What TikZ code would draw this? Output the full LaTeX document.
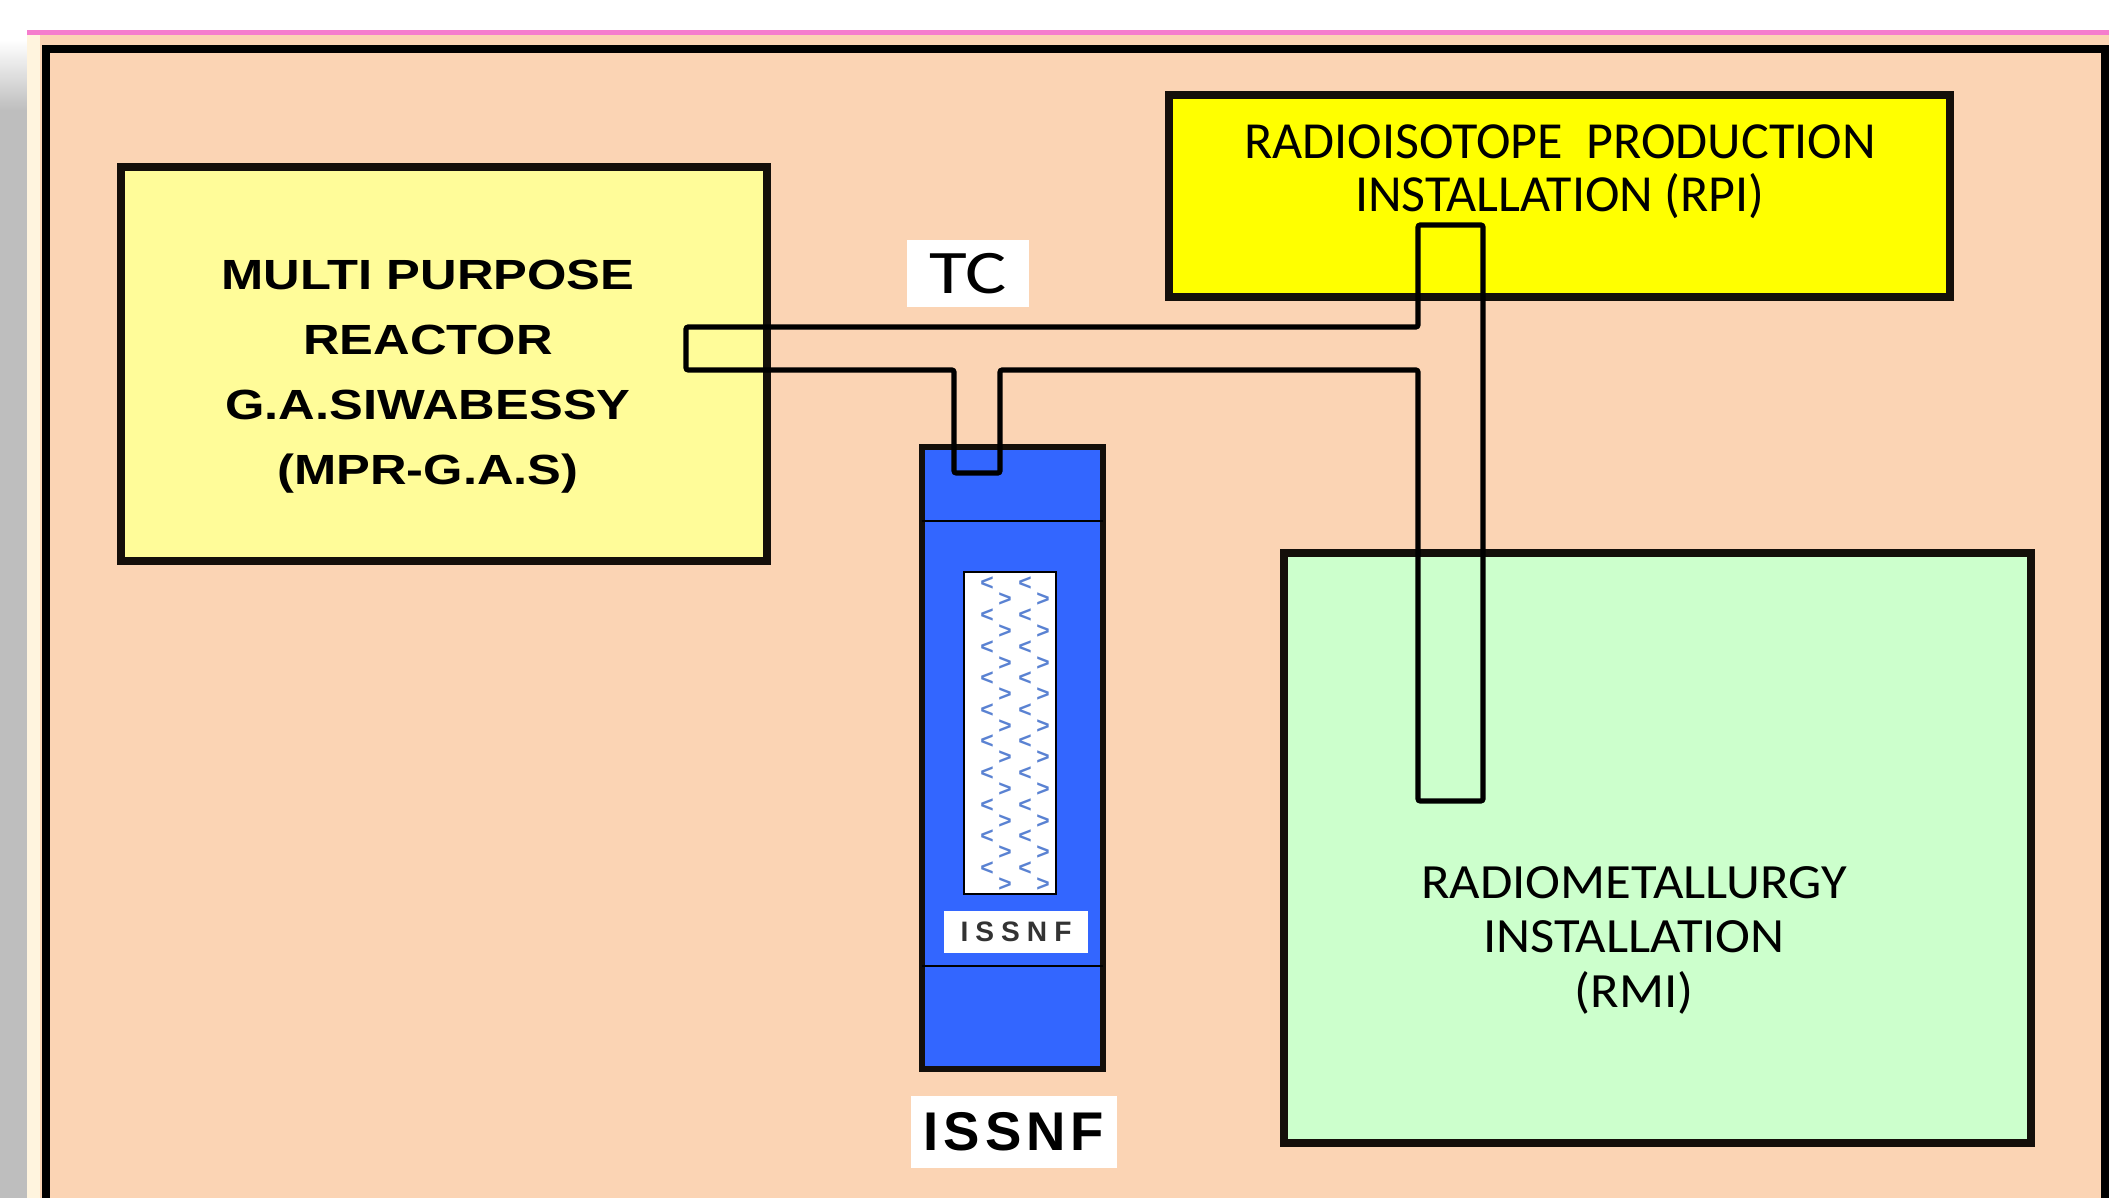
\documentclass[tikz,border=0pt]{standalone}
\usepackage{fontspec}
\setmainfont{Liberation Sans}
\newfontfamily\mprfont{Liberation Sans}[FakeStretch=1.2]
\newfontfamily\calfont{Carlito}
\newfontfamily\tcfont{Carlito}[FakeStretch=1.25]
\newfontfamily\rmifont{Carlito}[FakeStretch=1.07]
\newfontfamily\bigissnf{Liberation Sans}[LetterSpace=9]
\newfontfamily\smallissnf{Liberation Sans}[LetterSpace=25]
\definecolor{peach}{RGB}{251,212,180}
\definecolor{mpryellow}{RGB}{255,252,153}
\definecolor{rpiyellow}{RGB}{255,255,0}
\definecolor{rmigreen}{RGB}{204,255,204}
\definecolor{colblue}{RGB}{51,102,255}
\definecolor{pinkline}{RGB}{245,125,205}
\definecolor{shadowgray}{RGB}{190,190,190}
\definecolor{cream}{RGB}{255,244,222}
\definecolor{patblue}{RGB}{90,130,210}
\definecolor{darkline}{RGB}{20,15,10}
\begin{document}
\begin{tikzpicture}[x=0.01cm,y=-0.01cm,
  box/.style={draw=darkline, line width=2.3pt, rectangle, inner sep=0pt, outer sep=0pt},
  pipe/.style={draw=black, line width=1.45pt, rounded corners=0.6pt},
  lab/.style={fill=white, inner sep=0pt, outer sep=0pt},
  patch/.style={text=patblue, inner sep=0pt, font=\bfseries\fontsize{6.5}{6.5}\selectfont}]
\useasboundingbox (0,0) rectangle (2109,1198);
\fill[white] (0,0) rectangle (2109,1198);
% left shadow
\fill[top color=white, bottom color=shadowgray] (0,40) rectangle (27,110);
\fill[shadowgray] (0,110) rectangle (27,1198);
% panel
\fill[peach] (27,33) rectangle (2109,1198);
\fill[cream] (27,35) rectangle (40,1198);
\fill[pinkline] (27,30) rectangle (2109,35);
\draw[black, line width=2.3pt] (46,1210) -- (46,49) -- (2105,49) -- (2105,1210);
% boxes
\node[box, fill=mpryellow, minimum width=6.46cm, minimum height=3.94cm] (mpr) at (444,364) {};
\node[box, fill=rpiyellow, minimum width=7.81cm, minimum height=2.02cm] (rpi) at (1559.5,196) {};
\node[box, fill=rmigreen, minimum width=7.47cm, minimum height=5.90cm] (rmi) at (1657.5,848) {};
\node[box, fill=colblue, line width=1.7pt, minimum width=1.81cm, minimum height=6.22cm] (col) at (1012.5,758) {};
\draw[line width=0.8pt] (col.west |- 0,521) -- (col.east |- 0,521);
\draw[line width=0.8pt] (col.west |- 0,966) -- (col.east |- 0,966);
\node[draw=black, fill=white, line width=0.6pt, inner sep=0pt, minimum width=0.92cm, minimum height=3.22cm] (core) at (1010,733) {};
\foreach \k in {0,...,9} {
  \node[patch] at (987,{584+31.6*\k}) {<};
  \node[patch] at (1025,{584+31.6*\k}) {<};
  \node[patch] at (1005,{600+31.6*\k}) {>};
  \node[patch] at (1043,{600+31.6*\k}) {>};
}
\node[lab, minimum width=1.43cm, minimum height=0.41cm, text=black!80, font=\smallissnf\bfseries\fontsize{8}{9}\selectfont] (slab) at (1016,932) {ISSNF};
% pipe network
\draw[pipe] (686,327) -- (1418,327) -- (1418,225) -- (1483,225) -- (1483,801) -- (1418,801) -- (1418,370) -- (1000,370) -- (1000,473) -- (954,473) -- (954,370) -- (686,370) -- cycle;
% texts
\node[align=center, font=\mprfont\bfseries\fontsize{12}{18.5}\selectfont] (mprtext) at (428,377) {MULTI PURPOSE\\REACTOR\\G.A.SIWABESSY\\(MPR-G.A.S)};
\node[align=center, font=\calfont\fontsize{14.8}{15}\selectfont] (rpitext) at (1560,172) {RADIOISOTOPE\ \ PRODUCTION\\INSTALLATION (RPI)};
\node[align=center, font=\rmifont\fontsize{14}{15.5}\selectfont] (rmitext) at (1634,940) {RADIOMETALLURGY\\INSTALLATION\\(RMI)};
\node[lab, minimum width=1.22cm, minimum height=0.67cm, font=\tcfont\fontsize{17.6}{20}\selectfont] (tc) at (968,273.5) {TC};
\node[lab, minimum width=2.06cm, minimum height=0.71cm, font=\bigissnf\bfseries\fontsize{15.5}{18}\selectfont] (issnf) at (1014,1132) {ISSNF};
\end{tikzpicture}
\end{document}
